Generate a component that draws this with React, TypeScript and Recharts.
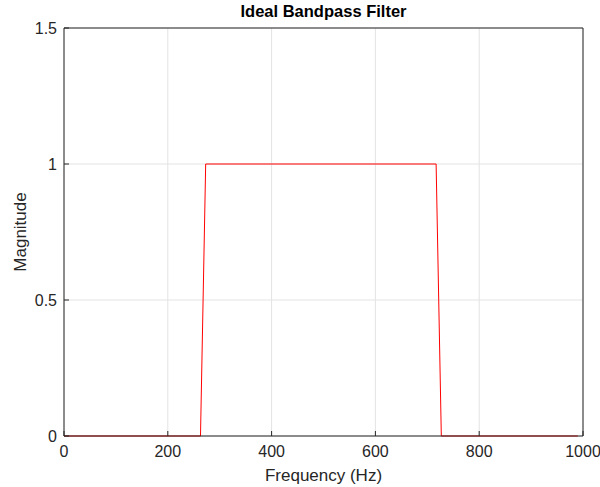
import React from 'react';
import {
  LineChart,
  Line,
  XAxis,
  YAxis,
  CartesianGrid,
  ReferenceLine,
  Label,
} from 'recharts';

// Frequency response points
const frequency = [0, 263, 273, 717, 727, 990];
const magnitude = [0, 0, 1, 1, 0, 0];

const xTicks = [0, 200, 400, 600, 800, 1000];
const yTicks = [0, 0.5, 1, 1.5];

const data = frequency.map((f, i) => ({ f, m: magnitude[i] }));

const FONT = '"Liberation Sans", Arial, Helvetica, sans-serif';
const INK = '#262626';

export default function App() {
  return (
    <div style={{ position: 'absolute', left: 0, top: 0, width: 600, height: 487, background: '#fff', fontFamily: FONT }}>
      <div
        style={{
          position: 'absolute',
          left: 64,
          width: 519,
          top: 1,
          textAlign: 'center',
          fontWeight: 'bold',
          fontSize: 16.5,
          lineHeight: '20px',
          color: '#000',
        }}
      >
        Ideal Bandpass Filter
      </div>
      <LineChart
        width={600}
        height={487}
        data={data}
        margin={{ top: 28, right: 17, bottom: 0, left: 0 }}
      >
        <CartesianGrid stroke="#e3e3e3" strokeWidth={1} />
        <XAxis
          dataKey="f"
          type="number"
          domain={[0, 1000]}
          ticks={xTicks}
          height={51}
          tickSize={-5}
          tickMargin={15}
          stroke={INK}
          tick={{ fill: INK, fontSize: 16, fontFamily: FONT }}
        >
          <Label
            value="Frequency (Hz)"
            position="insideBottom"
            offset={6}
            style={{ fill: INK, fontSize: 17, fontFamily: FONT }}
          />
        </XAxis>
        <YAxis
          type="number"
          domain={[0, 1.5]}
          ticks={yTicks}
          width={64}
          tickSize={-5}
          tickMargin={12}
          stroke={INK}
          tick={{ fill: INK, fontSize: 16, fontFamily: FONT }}
        >
          <Label
            value="Magnitude"
            angle={-90}
            position="insideLeft"
            offset={20}
            style={{ fill: INK, fontSize: 17, fontFamily: FONT, textAnchor: 'middle' }}
          />
        </YAxis>
        <ReferenceLine y={1.5} stroke={INK} />
        <ReferenceLine x={1000} stroke={INK} />
        <Line
          dataKey="m"
          stroke="#ff0000"
          strokeWidth={1}
          dot={false}
          isAnimationActive={false}
          type="linear"
        />
      </LineChart>
    </div>
  );
}
